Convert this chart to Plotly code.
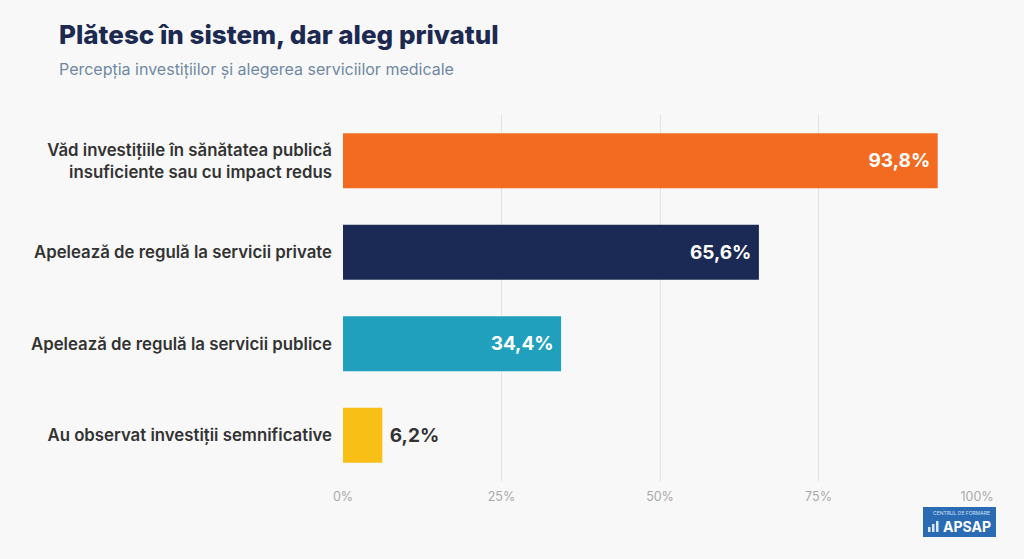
import plotly.graph_objects as go

categories = [
    "Văd investițiile în sănătatea publică<br>insuficiente sau cu impact redus",
    "Apelează de regulă la servicii private",
    "Apelează de regulă la servicii publice",
    "Au observat investiții semnificative",
]
values = [93.8, 65.6, 34.4, 6.2]
value_labels = ["93,8%", "65,6%", "34,4%", "6,2%"]
bar_colors = ["#f26b21", "#1b2a55", "#21a0be", "#f8bf17"]
tick_vals = [0, 25, 50, 75, 100]
tick_text = ["0%", "25%", "50%", "75%", "100%"]

font = "Inter"
bg = "#f8f8f8"
W, H = 1024, 559
L, R, T, B = 343, 47, 115, 78


# pixel position on the page -> paper coordinates of the plot area
def px(x):
    return (x - L) / (W - L - R)


def py(y):
    return (H - B - y) / (H - T - B)


bar_text = [
    t + "\u00a0" if v > 20 else "\u00a0" + t for t, v in zip(value_labels, values)
]

fig = go.Figure(
    go.Bar(
        x=values,
        y=categories,
        orientation="h",
        marker=dict(color=bar_colors, line=dict(width=0)),
        width=0.6,
        text=bar_text,
        textposition=["inside", "inside", "inside", "outside"],
        insidetextanchor="end",
        textfont=dict(
            family=font,
            size=19,
            weight=700,
            color=["white", "white", "white", "#333333"],
        ),
        cliponaxis=False,
        hoverinfo="skip",
    )
)

fig.update_layout(
    width=W,
    height=H,
    paper_bgcolor=bg,
    plot_bgcolor=bg,
    margin=dict(l=L, r=R, t=T, b=B),
    showlegend=False,
    font=dict(family=font),
    xaxis=dict(
        range=[0, 100],
        tickvals=tick_vals,
        ticktext=tick_text,
        showgrid=True,
        gridcolor="#e2e2e2",
        gridwidth=1,
        zeroline=False,
        showline=False,
        tickfont=dict(size=12.5, color="#a9a9a9"),
        ticks="",
        ticklabelstandoff=6,
        fixedrange=True,
    ),
    yaxis=dict(
        autorange="reversed",
        showgrid=False,
        zeroline=False,
        ticks="",
        ticklabelstandoff=10,
        tickfont=dict(size=16.8, color="#333333", weight=600),
        fixedrange=True,
    ),
    annotations=[
        dict(
            text="Plătesc în sistem, dar aleg privatul",
            x=px(57),
            y=py(35),
            xref="paper",
            yref="paper",
            xanchor="left",
            yanchor="middle",
            showarrow=False,
            font=dict(size=26, color="#1c2951", family=font, weight=800),
        ),
        dict(
            text="Percepția investițiilor și alegerea serviciilor medicale",
            x=px(57),
            y=py(69),
            xref="paper",
            yref="paper",
            xanchor="left",
            yanchor="middle",
            showarrow=False,
            font=dict(size=16, color="#6f88a3", family=font),
        ),
        dict(
            text="<b>APSAP</b>",
            x=px(993),
            y=py(526),
            xref="paper",
            yref="paper",
            xanchor="right",
            yanchor="middle",
            showarrow=False,
            font=dict(size=14, color="white", family=font),
        ),
        dict(
            text="CENTRUL DE FORMARE",
            x=px(992),
            y=py(513),
            xref="paper",
            yref="paper",
            xanchor="right",
            yanchor="middle",
            showarrow=False,
            font=dict(size=5, color="#cfe0f5", family=font),
        ),
    ],
)

# logo badge
shapes = [
    dict(
        type="rect",
        xref="paper",
        yref="paper",
        x0=px(923),
        x1=px(996),
        y0=py(537),
        y1=py(507),
        fillcolor="#2a6bb3",
        line=dict(width=0),
        layer="above",
    )
]
for i, h in enumerate([5, 8, 11]):
    shapes.append(
        dict(
            type="rect",
            xref="paper",
            yref="paper",
            x0=px(928 + i * 4),
            x1=px(930.5 + i * 4),
            y0=py(532),
            y1=py(532 - h),
            fillcolor="#dbe8f7",
            line=dict(width=0),
            layer="above",
        )
    )
fig.update_layout(shapes=shapes)

fig.write_html(
    "out.html",
    config={"displayModeBar": False},
    post_script="document.body.style.margin='0';",
)
